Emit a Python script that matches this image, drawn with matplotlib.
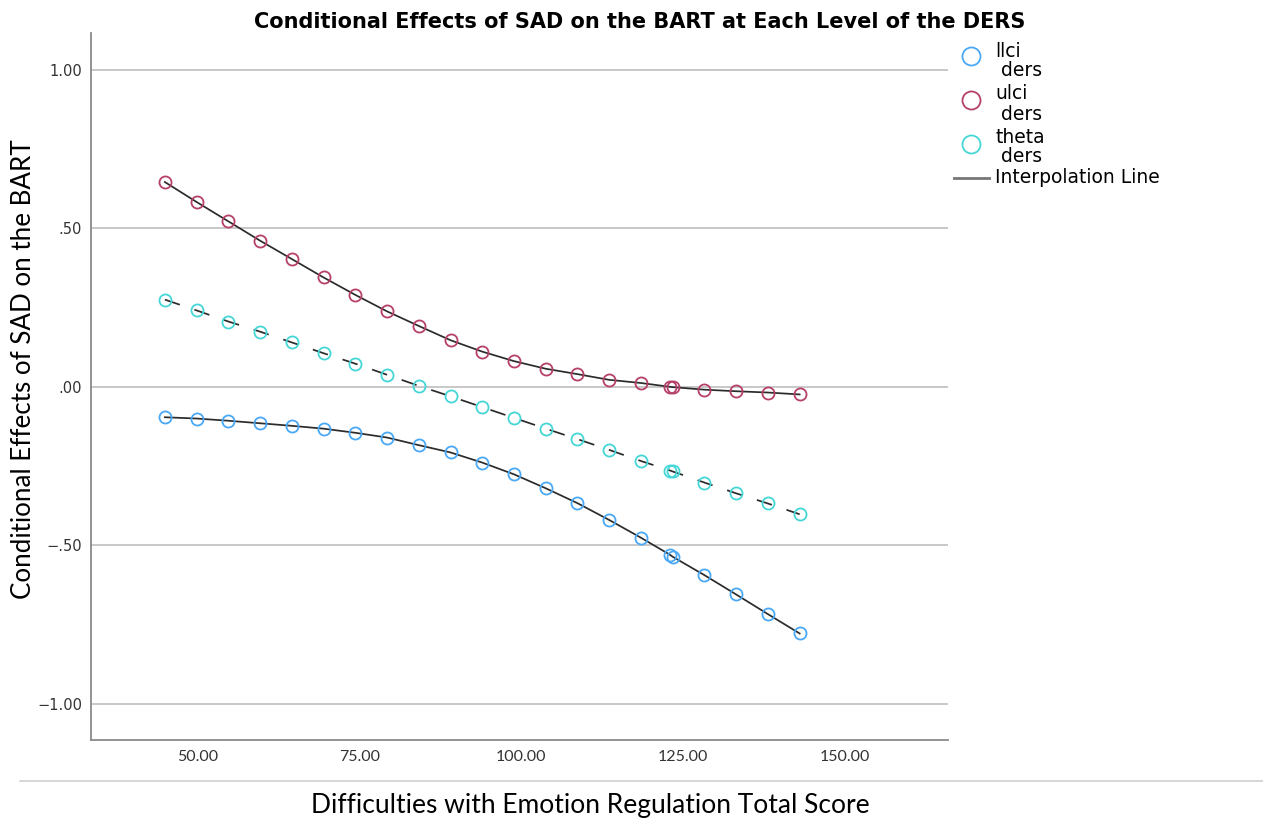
import numpy as np
import matplotlib
matplotlib.use("Agg")
import matplotlib.pyplot as plt
from matplotlib.lines import Line2D

# DERS total score grid (Johnson-Neyman output, incl. the JN point near 123)
ders = [45.0, 49.9, 54.8, 59.7, 64.6, 69.5, 74.4, 79.3, 84.2, 89.1, 94.0,
        98.9, 103.8, 108.7, 113.6, 118.5, 123.0, 123.4, 128.3, 133.2, 138.1, 143.0]

ulci = [.646, .583, .522, .461, .403, .345, .290, .238, .192, .147, .111,
        .081, .057, .040, .022, .012, .000, -.001, -.009, -.014, -.018, -.024]

theta = [.275, .241, .206, .174, .140, .106, .073, .038, .003, -.030, -.064,
         -.098, -.132, -.165, -.199, -.234, -.264, -.267, -.302, -.336, -.368, -.402]

llci = [-.096, -.100, -.107, -.115, -.123, -.132, -.145, -.160, -.184, -.207, -.239,
        -.276, -.320, -.367, -.420, -.476, -.530, -.536, -.594, -.655, -.717, -.778]

yticks = [1.0, 0.5, 0.0, -0.5, -1.0]
ytick_labels = ["1.00", ".50", ".00", "\u2212.50", "\u22121.00"]
xticks = [50, 75, 100, 125, 150]
xtick_labels = ["50.00", "75.00", "100.00", "125.00", "150.00"]

c_llci = "#4aa8f5"
c_ulci = "#b5406a"
c_theta = "#45d6d6"
c_line = "#2b2b2b"

plt.rcParams["lines.scale_dashes"] = False

W, H = 1263, 825
fig = plt.figure(figsize=(W/100, H/100), dpi=100)
ax = fig.add_axes([91/W, 1-740/H, (948-91)/W, (740-33)/H])

def fx(px):
    return px / W

def fy(py):
    return 1 - py / H

# interpolation lines
ax.plot(ders, ulci, color=c_line, lw=1.25, zorder=2)
ax.plot(ders, llci, color=c_line, lw=1.25, zorder=2)
ax.plot(ders, theta, color=c_line, lw=1.25, dashes=(11.4, 11.1), zorder=2)

# points
mk = dict(marker="o", linestyle="none", markersize=8.7, markerfacecolor="none",
          markeredgewidth=1.3, zorder=3)
ax.plot(ders, llci, markeredgecolor=c_llci, **mk)
ax.plot(ders, ulci, markeredgecolor=c_ulci, **mk)
ax.plot(ders, theta, markeredgecolor=c_theta, **mk)

ax.set_xlim(33.6, 165.9)
ax.set_ylim(-1.114, 1.116)

ax.set_yticks(yticks)
ax.set_yticklabels(ytick_labels, fontsize=10.5, color="#333333")
ax.set_xticks(xticks)
ax.set_xticklabels(xtick_labels, fontsize=11.5, color="#333333", family="Lato")
ax.tick_params(length=0)
ax.tick_params(axis="y", pad=6.5)
ax.tick_params(axis="x", pad=7)

ax.yaxis.grid(True, color="#c4c4c4", lw=1.3)
ax.set_axisbelow(True)
for s in ["top", "right"]:
    ax.spines[s].set_visible(False)
for s in ["left", "bottom"]:
    ax.spines[s].set_color("#8a8a8a")
    ax.spines[s].set_linewidth(1.3)

fig.text(fx(640), fy(22), "Conditional Effects of SAD on the BART at Each Level of the DERS",
         ha="center", va="center", fontsize=15, fontweight="bold")
fig.text(fx(24), fy(369), "Conditional Effects of SAD on the BART", rotation=90,
         ha="center", va="center", fontsize=18.7, family="Lato")
fig.text(fx(590), fy(805), "Difficulties with Emotion Regulation Total Score",
         ha="center", va="center", fontsize=19, family="Lato")

# separator line under the plot
fig.add_artist(Line2D([fx(20), 1.0], [fy(781), fy(781)], color="#cfcfcf", lw=1.2))

# legend (drawn by hand to get the SPSS two-line layout)
leg_fs = 13.5
entries = [("llci", c_llci, 56, 57, 76),
           ("ulci", c_ulci, 100, 99, 120),
           ("theta", c_theta, 144, 143, 162)]
for name, col, my, b1, b2 in entries:
    fig.add_artist(Line2D([fx(971)], [fy(my)], marker="o", markersize=13,
                          markerfacecolor="none", markeredgecolor=col,
                          markeredgewidth=1.3, linestyle="none"))
    fig.text(fx(995), fy(b1), name, ha="left", va="baseline", fontsize=leg_fs)
    fig.text(fx(1001), fy(b2), "ders", ha="left", va="baseline", fontsize=leg_fs)
fig.add_artist(Line2D([fx(954), fx(989)], [fy(178), fy(178)], color="#777777", lw=2))
fig.text(fx(995), fy(183), "Interpolation Line", ha="left", va="baseline", fontsize=leg_fs)

fig.savefig("out.png", dpi=100)
